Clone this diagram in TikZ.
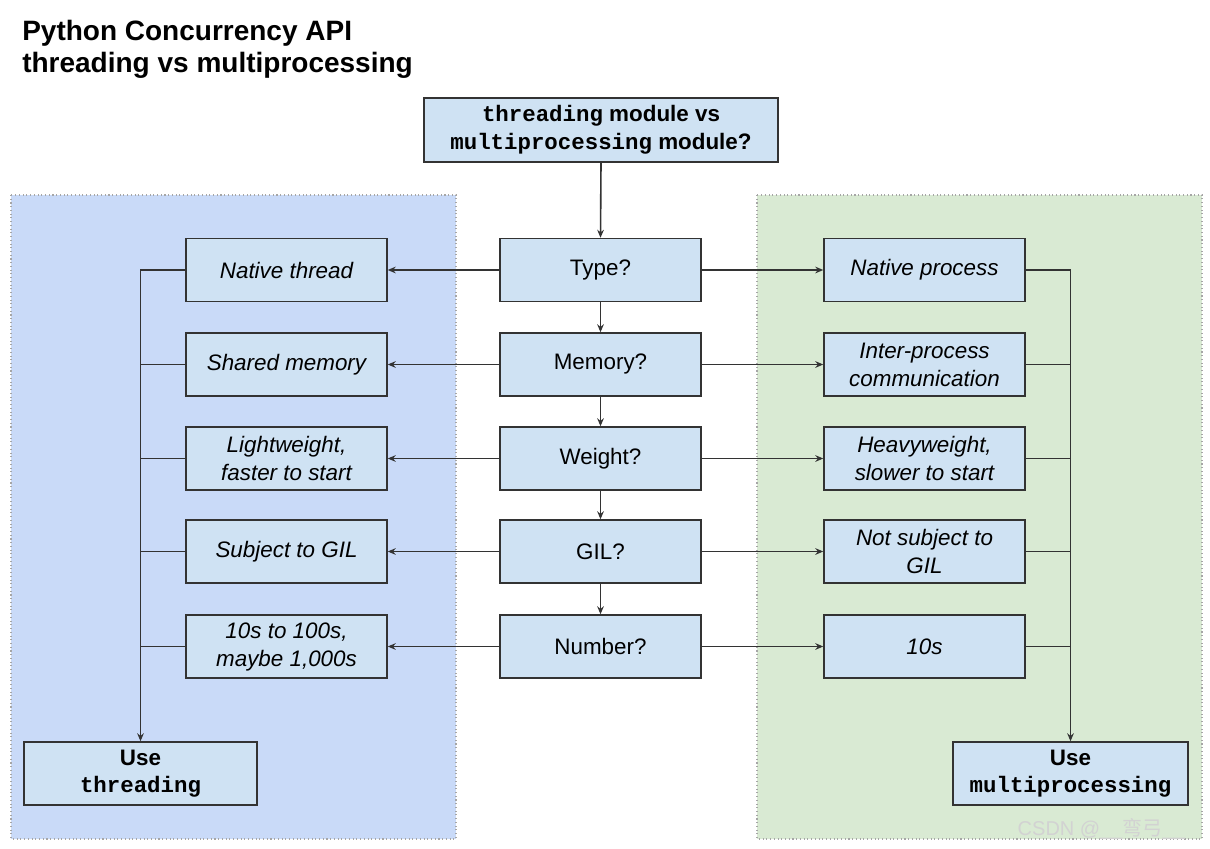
\documentclass[tikz,border=0pt]{standalone}
\usepackage{fontspec}
\setmainfont{Liberation Sans}
\setmonofont{Liberation Mono}
\newfontfamily\cjk{Noto Sans CJK SC}
\usetikzlibrary{arrows.meta}
\definecolor{leftbg}{HTML}{C9DAF8}
\definecolor{rightbg}{HTML}{D9EAD3}
\definecolor{boxbg}{HTML}{CFE2F3}
\definecolor{edge}{HTML}{333333}
\tikzset{
  x=0.75pt, y=-0.75pt,
  region/.style={draw=gray!70, dotted, line width=0.8pt},
  qbox/.style={draw=edge, fill=boxbg, line width=1.1pt, minimum width=150.75pt, minimum height=47.25pt, inner sep=0pt, align=center, font=\fontsize{16.8}{21}\selectfont},
  abox/.style={qbox, font=\fontsize{16.8}{21}\selectfont\itshape},
  ubox/.style={qbox, minimum height=47.25pt, font=\fontsize{16.8}{20}\selectfont\bfseries},
  conn/.style={draw=edge, line width=1.2pt},
  arr/.style={conn, -{Stealth[length=6pt,width=5pt]}},
}
\begin{document}
\begin{tikzpicture}
\useasboundingbox[fill=white] (0,0) rectangle (1210,849);
% regions
\fill[leftbg] (11,195) rectangle (456,839);
\draw[region] (11,195) rectangle (456,839);
\fill[rightbg] (757,195) rectangle (1202,839);
\draw[region] (757,195) rectangle (1202,839);
% title
\node[anchor=north west, inner sep=0pt, align=left, font=\fontsize{21}{24}\selectfont\bfseries] (title) at (22,20) {Python Concurrency API\\threading vs multiprocessing};
% top box
\node[qbox, minimum width=265.5pt, minimum height=48pt, font=\fontsize{16.8}{21}\selectfont\bfseries] (top) at (601,130) {\texttt{threading} module vs\\\texttt{multiprocessing} module?};
% center
\node[qbox] (type) at (600.5,270) {Type?};
\node[qbox] (mem) at (600.5,364.5) {Memory?};
\node[qbox] (wt) at (600.5,458.5) {Weight?};
\node[qbox] (gil) at (600.5,551.5) {GIL?};
\node[qbox] (num) at (600.5,646.5) {Number?};
% left
\node[abox] (l1) at (286.5,270) {Native thread};
\node[abox] (l2) at (286.5,364.5) {Shared memory};
\node[abox] (l3) at (286.5,458.5) {Lightweight,\\faster to start};
\node[abox] (l4) at (286.5,551.5) {Subject to GIL};
\node[abox] (l5) at (286.5,646.5) {10s to 100s,\\maybe 1,000s};
% right
\node[abox] (r1) at (924.5,270) {Native process};
\node[abox] (r2) at (924.5,364.5) {Inter-process\\communication};
\node[abox] (r3) at (924.5,458.5) {Heavyweight,\\slower to start};
\node[abox] (r4) at (924.5,551.5) {Not subject to\\GIL};
\node[abox] (r5) at (924.5,646.5) {10s};
% results
\node[ubox, minimum width=174.75pt] (ut) at (140.5,773.5) {Use\\\texttt{threading}};
\node[ubox, minimum width=176.25pt] (um) at (1070.5,773.5) {Use\\\texttt{multiprocessing}};
% vertical chain
\draw[arr] (top.south) -- (type.north);
\draw[arr] (type.south) -- (mem.north);
\draw[arr] (mem.south) -- (wt.north);
\draw[arr] (wt.south) -- (gil.north);
\draw[arr] (gil.south) -- (num.north);
% horizontals
\foreach \c/\l/\r in {type/l1/r1, mem/l2/r2, wt/l3/r3, gil/l4/r4, num/l5/r5}{
  \draw[arr] (\c.west) -- (\l.east);
  \draw[arr] (\c.east) -- (\r.west);
}
% collectors
\draw[arr] (l1.west) -| (ut.north);
\foreach \l in {l2,l3,l4,l5}{ \draw[conn] (\l.west) -- (\l.west -| ut.north); }
\draw[arr] (r1.east) -| (um.north);
\foreach \r in {r2,r3,r4,r5}{ \draw[conn] (\r.east) -- (\r.east -| um.north); }
% watermark
\node[anchor=east, inner sep=0pt, text=gray!35, font=\fontsize{15}{15}\selectfont] (wm) at (1185,829) {CSDN @\_\_{\cjk 弯弓}\_\_};
\end{tikzpicture}
\end{document}
